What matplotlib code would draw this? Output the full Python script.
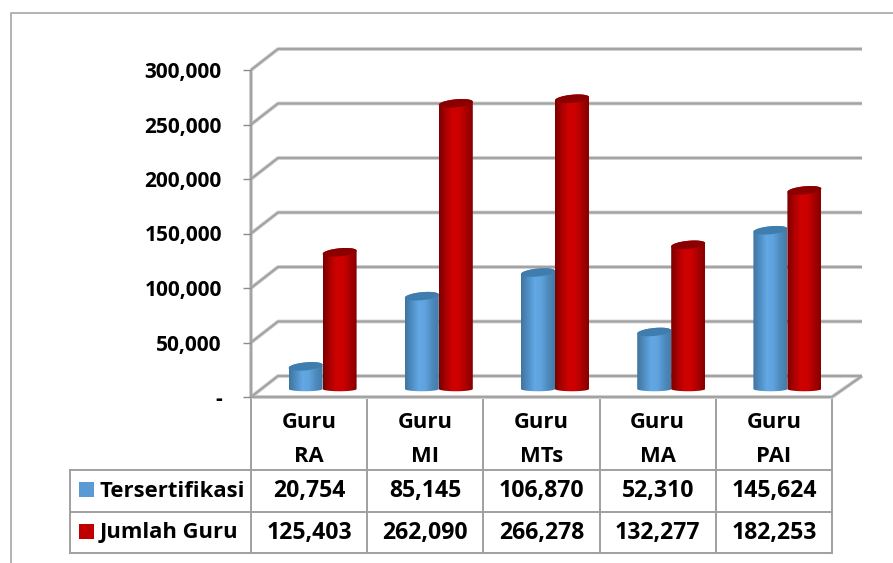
import numpy as np
import matplotlib
matplotlib.use("Agg")
import matplotlib.pyplot as plt
from matplotlib.patches import PathPatch, Polygon, Rectangle
from matplotlib.path import Path
from matplotlib.colors import LinearSegmentedColormap

categories = ["Guru\nRA", "Guru\nMI", "Guru\nMTs", "Guru\nMA", "Guru\nPAI"]
series_names = ["Tersertifikasi", "Jumlah Guru"]
tersertifikasi = [20754, 85145, 106870, 52310, 145624]
jumlah_guru = [125403, 262090, 266278, 132277, 182253]
y_ticks = [0, 50000, 100000, 150000, 200000, 250000, 300000]

W, H = 893, 563
FONT = "Open Sans"
plt.rcParams["font.family"] = [FONT, "DejaVu Sans"]
fig = plt.figure(figsize=(W / 100, H / 100), dpi=100, facecolor="white")

# overlay in pixel coordinates for frame and table
ov = fig.add_axes([0, 0, 1, 1], zorder=0)
ov.set_xlim(0, W); ov.set_ylim(H, 0); ov.axis("off")

# front plane of the chart
L, R, T, B = 251, 832, 70, 397
ax = fig.add_axes([L / W, 1 - B / H, (R - L) / W, (B - T) / H], zorder=2)
ax.patch.set_alpha(0)
ax.set_xlim(0, 5); ax.set_ylim(0, 300000)
for s in ax.spines.values():
    s.set_visible(False)
ax.set_xticks([])
ax.set_yticks(y_ticks)
ax.set_yticklabels(["-" if v == 0 else f"{v:,}" for v in y_ticks],
                   fontsize=15.0, fontweight="bold", color="black")
ax.tick_params(axis="y", length=6, width=1.0, color="#8c8c8c", pad=15)

ux = (R - L) / 5            # px per category
uy = (B - T) / 300000       # px per value
dx, dy = 27 / ux, 21 / uy   # wall depth in data units
GRID = "#a3a3a3"

def gl(xs, ys, lw=1.7):
    ax.plot(xs, ys, color="#dcdcdc", lw=lw + 1.2, clip_on=False, zorder=1, solid_capstyle="butt")
    ax.plot(xs, ys, color=GRID, lw=lw, clip_on=False, zorder=1.1, solid_capstyle="butt")

backR = 5 + 30 / ux
for v in y_ticks:
    gl([0, dx, backR], [v, v + dy, v + dy])
gl([0, 0], [0, 300000])
gl([0, 5, backR], [0, 0, dy])

cm_blue = LinearSegmentedColormap.from_list("b", ["#3f759f", "#4f8dc2", "#62a8e4", "#5fa3de", "#4d8abd", "#437ba8"])
cm_red = LinearSegmentedColormap.from_list("r", ["#7a0000", "#aa0000", "#cf0000", "#cc0000", "#a80000", "#860000"])
grad = np.linspace(0, 1, 128).reshape(1, -1)

bw = 34 / ux
eh_top = 8 / uy
eh_bot = 4.5 / uy
tilt = 1.6 / uy
def cylinder(xc, base, val, cmap, topcol, z):
    t = np.linspace(np.pi, 2 * np.pi, 40)
    xb = xc + bw / 2 * np.cos(t)
    yb = base + eh_bot / 2 * np.sin(t)
    # tilted top rim: left side sits lower than the right side
    tt = np.linspace(0, 2 * np.pi, 80)
    xr = xc + bw / 2 * np.cos(tt)
    yr = base + val + eh_top / 2 * np.sin(tt) + tilt * np.cos(tt)
    back = np.linspace(0, np.pi, 40)
    xt = xc + bw / 2 * np.cos(back)
    yt = base + val + eh_top / 2 * np.sin(back) + tilt * np.cos(back)
    verts = np.vstack([np.c_[xb, yb], np.c_[xt, yt], [[xb[0], yb[0]]]])
    clip = PathPatch(Path(verts), transform=ax.transData, facecolor="none", edgecolor="none")
    ax.add_patch(clip)
    im = ax.imshow(grad, cmap=cmap, aspect="auto", zorder=z, interpolation="bilinear",
                   extent=(xc - bw / 2, xc + bw / 2, base - eh_bot, base + val + eh_top))
    im.set_clip_path(clip)
    ax.add_patch(Polygon(np.c_[xr, yr], closed=True, facecolor=topcol, edgecolor="none",
                         zorder=z + 0.1, clip_on=False))

base = 8 / uy
for i in range(len(categories)):
    mid = i + 0.5 + dx / 2
    cylinder(mid - bw / 2, base, tersertifikasi[i], cm_blue, "#3f7dae", 3 + i)
    cylinder(mid + bw / 2, base, jumlah_guru[i], cm_red, "#8a0000", 3.5 + i)
ax.set_xlim(0, 5); ax.set_ylim(0, 300000)

# outer frame
fc = "#a6a6a6"
ov.plot([10.5, 10.5, W], [H, 13, 13], color=fc, lw=1.2)

# table
cols = [L + ux * k for k in range(6)]
TC = "#a0a0a0"
y0, y1, y2, y3 = B, 470, 511.5, 552.5
for x in cols:
    ov.plot([x, x], [y0, y3], color=TC, lw=1.4)
for y in (y1, y2, y3):
    ov.plot([70, R], [y, y], color=TC, lw=1.4)
ov.plot([70, 70], [y1, y3], color=TC, lw=1.4)

tk = dict(fontsize=15.8, fontweight="bold", color="black", ha="center", va="center")
nk = dict(tk, fontsize=16.6)
for i, c in enumerate(categories):
    a, b = c.split("\n")
    xm = cols[i] + ux / 2
    ov.text(xm, 423, a, **tk)
    ov.text(xm, 456, b, **tk)
    ov.text(xm, 491.5, f"{tersertifikasi[i]:,}", **nk)
    ov.text(xm, 533.5, f"{jumlah_guru[i]:,}", **nk)

for name, col, ys, yt in zip(series_names, ["#5b9bd5", "#c00000"], [482, 524], [491.5, 532.5]):
    ov.add_patch(Rectangle((79, ys), 15, 15, facecolor=col, edgecolor="none"))
    ov.text(100, yt, name, fontsize=15.8, fontweight="bold", color="black", ha="left", va="center")

fig.savefig("out.png", dpi=100)
